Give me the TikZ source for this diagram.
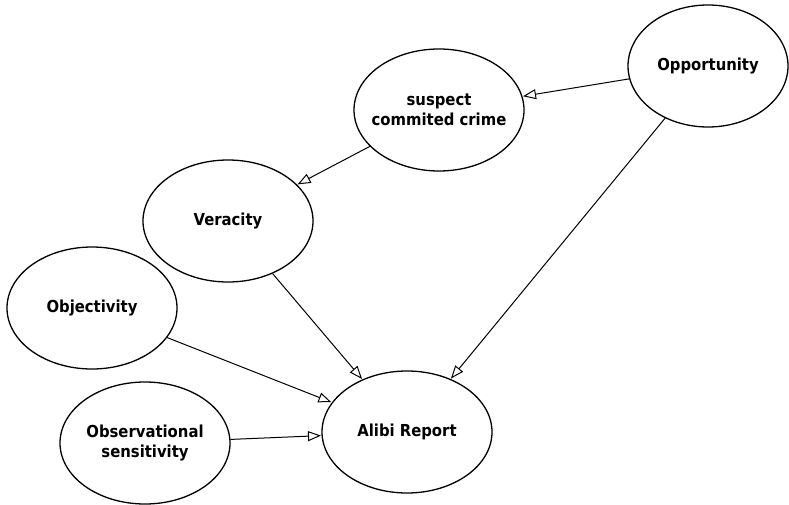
\documentclass[tikz,border=0pt]{standalone}
\usepackage{fontspec}
\setmainfont{DejaVu Sans Condensed}
\usetikzlibrary{shapes.geometric,arrows.meta}
\tikzset{
  var/.style={draw=black, line width=1.3pt, ellipse, fill=white, minimum width=170pt, minimum height=122pt, inner sep=0pt},
  lbl/.style={font=\fontsize{16.5}{20}\selectfont\bfseries, align=center, inner sep=0pt},
  link/.style={draw=black, line width=1pt, -{Triangle[open, length=13pt, width=10pt, line width=1pt]}, shorten >=0.5pt}
}
\begin{document}
\begin{tikzpicture}[x=1pt, y=-1pt]
\useasboundingbox (0,0) rectangle (789,505);
\node[var, minimum width=160pt] (opp) at (708,66) {};
\node[var] (sus) at (439,110) {};
\node[var] (ver) at (228,221) {};
\node[var] (obj) at (92,308) {};
\node[var] (obs) at (145,443) {};
\node[var] (ali) at (407,432) {};
\node[lbl] (oppt) at (opp.center) {Opportunity};
\node[lbl] (sust) at (sus.center) {suspect\\commited crime};
\node[lbl] (vert) at (ver.center) {Veracity};
\node[lbl] (objt) at (obj.center) {Objectivity};
\node[lbl] (obst) at (obs.center) {Observational\\sensitivity};
\node[lbl] (alit) at (ali.center) {Alibi Report};
\draw[link] (opp) -- (sus);
\draw[link] (sus) -- (ver);
\draw[link] (opp) -- (ali);
\draw[link] (ver) -- (ali);
\draw[link] (obj) -- (ali);
\draw[link] (obs) -- (ali);
\end{tikzpicture}
\end{document}
